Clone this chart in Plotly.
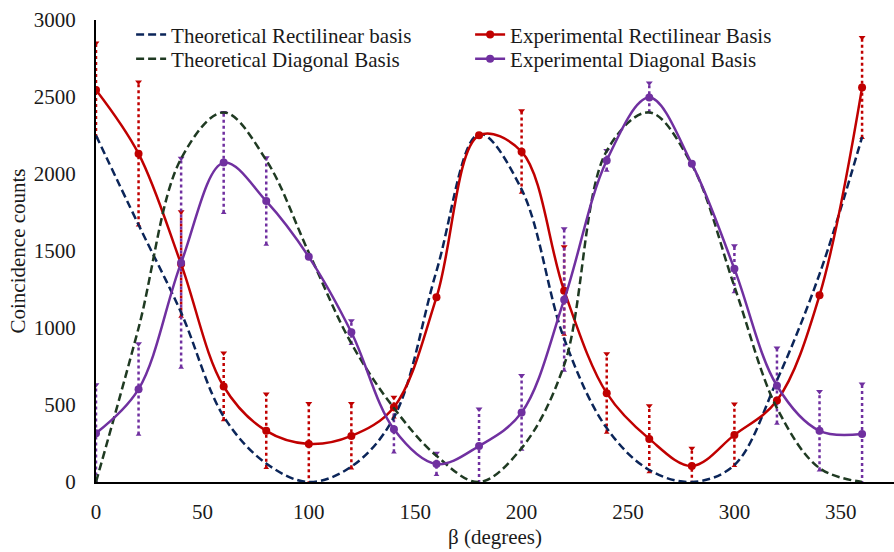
import plotly.graph_objects as go

# ---------------- data ----------------
beta = [0, 20, 40, 60, 80, 100, 120, 140, 160, 180, 200, 220, 240, 260, 280, 300, 320, 340, 360]

theo_rect = [2250, 1670, 1100, 425, 120, 0, 100, 420, 1370, 2260, 1900, 930, 350, 78, 0, 110, 660, 1350, 2240]
theo_diag = [0, 1000, 2100, 2400, 2090, 1490, 900, 480, 170, 0, 220, 760, 2150, 2400, 2060, 1270, 480, 90, 0]

exp_rect = [2546, 2132, 1415, 620, 332, 247, 299, 486, 1199, 2251, 2145, 1242, 577, 280, 104, 306, 529, 1212, 2561]
err_rect = [305, 465, 340, 218, 240, 262, 210, 65, 0, 0, 265, 285, 255, 215, 115, 200, 0, 0, 325]

exp_diag = [317, 603, 1423, 2074, 1824, 1462, 972, 343, 117, 234, 451, 1184, 2088, 2496, 2066, 1384, 625, 332, 312]
err_diag = [314, 295, 680, 325, 282, 0, 75, 150, 70, 240, 240, 460, 65, 95, 0, 150, 245, 255, 325]

x_ticks = [0, 50, 100, 150, 200, 250, 300, 350]
y_ticks = [0, 500, 1000, 1500, 2000, 2500, 3000]

C_RED = "#C00000"
C_PUR = "#7030A0"
C_NAVY = "#0B2559"
C_GRN = "#1F3A22"
FONT = "Liberation Serif, Times New Roman, serif"
TXT = "#1a1a1a"

fig = go.Figure()


def add_err(xs, ys, es, color):
    lx, ly, tx, ty, bx, by = [], [], [], [], [], []
    for x, y, e in zip(xs, ys, es):
        if e <= 0:
            continue
        lx += [x, x, None]
        ly += [y - e, y + e, None]
        tx.append(x); ty.append(y + e)
        bx.append(x); by.append(y - e)
    fig.add_trace(go.Scatter(x=lx, y=ly, mode="lines", showlegend=False, hoverinfo="skip",
                             line=dict(color=color, width=2.5, dash="dot")))
    fig.add_trace(go.Scatter(x=tx, y=ty, mode="markers", showlegend=False, hoverinfo="skip",
                             marker=dict(symbol="triangle-down", size=6, color=color)))
    fig.add_trace(go.Scatter(x=bx, y=by, mode="markers", showlegend=False, hoverinfo="skip",
                             marker=dict(symbol="triangle-up", size=5, color=color)))


add_err(beta, exp_rect, err_rect, C_RED)
add_err(beta, exp_diag, err_diag, C_PUR)

fig.add_trace(go.Scatter(x=beta, y=theo_rect, mode="lines", name="Theoretical Rectilinear basis",
                         legend="legend",
                         line=dict(color=C_NAVY, width=2.5, dash="8px,4px", shape="spline", smoothing=1)))
fig.add_trace(go.Scatter(x=beta, y=exp_rect, mode="lines+markers", name="Experimental Rectilinear Basis",
                         legend="legend",
                         line=dict(color=C_RED, width=2.5, shape="spline", smoothing=1),
                         marker=dict(size=8, color=C_RED)))
fig.add_trace(go.Scatter(x=beta, y=theo_diag, mode="lines", name="Theoretical Diagonal Basis",
                         legend="legend2",
                         line=dict(color=C_GRN, width=2.5, dash="8px,4px", shape="spline", smoothing=1)))
fig.add_trace(go.Scatter(x=beta, y=exp_diag, mode="lines+markers", name="Experimental Diagonal Basis",
                         legend="legend2",
                         line=dict(color=C_PUR, width=2.5, shape="spline", smoothing=1),
                         marker=dict(size=8, color=C_PUR)))

leg_common = dict(orientation="h", xanchor="left", yanchor="top",
                  entrywidth=294, entrywidthmode="pixels", itemwidth=30,
                  bgcolor="rgba(0,0,0,0)", font=dict(family=FONT, size=21, color=TXT))

fig.update_layout(
    width=894, height=552,
    margin=dict(l=96, r=0, t=20, b=70),
    paper_bgcolor="white", plot_bgcolor="white",
    font=dict(family=FONT, size=21, color=TXT),
    legend=dict(x=0.044, y=1.012, **leg_common),
    legend2=dict(x=0.044, y=0.96, **leg_common),
    xaxis=dict(range=[0, 375], tickvals=x_ticks, showgrid=False, zeroline=False, automargin=False,
               showline=True, linecolor="black", linewidth=2, ticks="", ticklabelstandoff=10,
               title=dict(text="β (degrees)", standoff=6, font=dict(size=21))),
    yaxis=dict(range=[0, 3000], tickvals=y_ticks, showgrid=False, zeroline=False, automargin=False,
               showline=True, linecolor="black", linewidth=2, ticks="", ticklabelstandoff=14,
               title=dict(text="Coincidence counts", standoff=2, font=dict(size=21))),
    showlegend=True,
)

fig.write_html("out.html", config={"displayModeBar": False},
               post_script="document.body.style.margin='0';document.body.style.padding='0';")
